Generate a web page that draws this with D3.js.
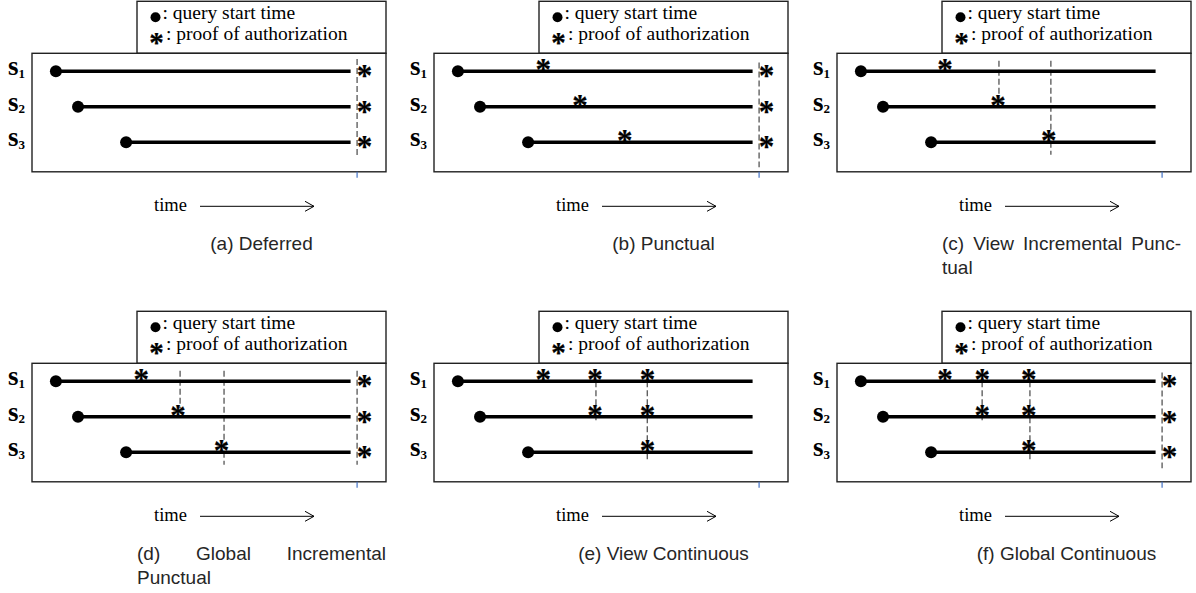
<!DOCTYPE html>
<html>
<head>
<meta charset="utf-8">
<script src="https://cdn.jsdelivr.net/npm/d3@7"></script>
<style>
  body { margin: 0; background: #fff; }
  svg { display: block; }
</style>
</head>
<body>
<script>
// chart values
const captions = [
    ["(a) Deferred"],
    ["(b) Punctual"],
    ["(c) View Incremental Punc-", "tual"],
    ["(d) Global Incremental", "Punctual"],
    ["(e) View Continuous"],
    ["(f) Global Continuous"]
];
const servers = ["1", "2", "3"];
const startTimes = [8.1, 15.6, 31.9];
const endTime = 108;
const nowTime = 110.2;
const deferredTime = 112.5;

// [server index, time] of each proof asterisk sitting on a line
const inlineProofs = [
    [],
    [[0, 37], [1, 49.5], [2, 64.7]],
    [[0, 36.6], [1, 54.6], [2, 71.8]],
    [[0, 37], [1, 49.5], [2, 64.2]],
    [[0, 37], [0, 54.6], [0, 72.4], [1, 54.6], [1, 72.4], [2, 72.4]],
    [[0, 36.6], [0, 49.2], [0, 65], [1, 49.2], [1, 65], [2, 65]]
];
// proofs at the end, right of the cut
const hasEndProofs = [true, true, false, true, false, true];

// dashed cuts: [time, from lane, to lane]
const cuts = [
    [[nowTime, -0.35, 2.4]],
    [[nowTime, -0.25, 2.7]],
    [[54.9, -0.3, 1.0], [72.5, -0.3, 2.35]],
    [[50.2, -0.3, 0.75], [65.1, -0.3, 2.35], [nowTime, -0.3, 2.35]],
    [[54.9, 0, 1.1], [72.3, 0, 2.2]],
    [[49.2, 0, 1.1], [65.4, 0, 2.2], [nowTime, -0.25, 2.45]]
];

const W = 1196, H = 593;
const colLeft = [32, 434, 837],
    rowTop = [53.3, 363.3];
const boxW = 354, boxH = 118.5;
const legendOff = 105, legendH = 52;

const serif = "'Liberation Serif', 'Times New Roman', serif",
    sans = "'Liberation Sans', Arial, Helvetica, sans-serif";

const x = d3.scaleLinear().domain([0, 120]).range([0, boxW]);
const lane = d3.scaleLinear().domain([0, 2]).range([18, 89]);

let svg = d3.select("body").append("svg")
    .attr("width", W)
    .attr("height", H);

function asterisk(g, cx, cy, size) {
    // bold times asterisk: glyph centre sits ~0.46em above baseline
    g.append("text")
        .attr("x", cx)
        .attr("y", cy + size * 0.46)
        .attr("text-anchor", "middle")
        .style("font-family", serif)
        .style("font-weight", "bold")
        .style("font-size", size + "px")
        .style("stroke", "#000")
        .style("stroke-width", 0.25)
        .text("*");
}

captions.forEach(function (cap, i) {
    let left = colLeft[i % 3],
        top = rowTop[Math.floor(i / 3)];

    let g = svg.append("g")
        .attr("class", "panel")
        .attr("transform", "translate(" + left + "," + top + ")");

    //legend
    let lg = g.append("g")
        .attr("transform", "translate(" + legendOff + "," + (-legendH) + ")");
    lg.append("rect")
        .attr("width", boxW - legendOff)
        .attr("height", legendH)
        .attr("fill", "#fff")
        .attr("stroke", "#222")
        .attr("stroke-width", 1.4);
    lg.append("circle")
        .attr("cx", 18.5)
        .attr("cy", 16)
        .attr("r", 5)
        .attr("fill", "#000");
    lg.append("text")
        .attr("x", 25.5)
        .attr("y", 17.5)
        .style("font-family", serif)
        .style("font-size", "19.5px")
        .text(": query start time");
    asterisk(lg, 19.5, 37, 29);
    lg.append("text")
        .attr("x", 29)
        .attr("y", 39)
        .style("font-family", serif)
        .style("font-size", "19.5px")
        .text(": proof of authorization");

    //main box
    g.append("rect")
        .attr("width", boxW)
        .attr("height", boxH)
        .attr("fill", "none")
        .attr("stroke", "#222")
        .attr("stroke-width", 1.4);

    // server labels
    servers.forEach(function (s, j) {
        let t = g.append("text")
            .attr("x", -24)
            .attr("y", lane(j) + 4)
            .style("font-family", serif)
            .style("font-weight", "bold")
            .style("font-size", "27px");
        t.append("tspan").text("s");
        t.append("tspan")
            .attr("dy", 2.5)
            .style("font-size", "13px")
            .text(s);
    });

    // cuts under everything
    g.selectAll(".cut")
        .data(cuts[i])
        .enter()
        .append("line")
        .attr("class", "cut")
        .attr("x1", function (d) { return x(d[0]); })
        .attr("x2", function (d) { return x(d[0]); })
        .attr("y1", function (d) { return lane(d[1]); })
        .attr("y2", function (d) { return lane(d[2]); })
        .attr("stroke", "#555")
        .attr("stroke-width", 1.3)
        .attr("stroke-dasharray", "6,3");

    // query lines
    g.selectAll(".query")
        .data(startTimes)
        .enter()
        .append("line")
        .attr("class", "query")
        .attr("x1", function (d) { return x(d); })
        .attr("x2", x(endTime))
        .attr("y1", function (d, j) { return lane(j); })
        .attr("y2", function (d, j) { return lane(j); })
        .attr("stroke", "#000")
        .attr("stroke-width", 3.6);

    g.selectAll(".start")
        .data(startTimes)
        .enter()
        .append("circle")
        .attr("class", "start")
        .attr("cx", function (d) { return x(d); })
        .attr("cy", function (d, j) { return lane(j); })
        .attr("r", 6)
        .attr("fill", "#000");

    inlineProofs[i].forEach(function (p) {
        asterisk(g, x(p[1]), lane(p[0]) - 5.5, 31);
    });
    if (hasEndProofs[i]) {
        servers.forEach(function (s, j) {
            asterisk(g, x(deferredTime) + 0.5, lane(j) + 0.5, 31);
        });
    }

    // blue tick for now
    g.append("line")
        .attr("x1", x(nowTime))
        .attr("x2", x(nowTime))
        .attr("y1", boxH)
        .attr("y2", boxH + 6)
        .attr("stroke", "#4472c4")
        .attr("stroke-width", 1.2);

    // time arrow
    g.append("text")
        .attr("x", 122)
        .attr("y", boxH + 39)
        .style("font-family", serif)
        .style("font-size", "18.5px")
        .text("time");
    let ay = boxH + 34.5;
    g.append("path")
        .attr("d", "M168," + ay + "H282M273," + (ay - 5) + "L282," + ay + "L273," + (ay + 5))
        .attr("fill", "none")
        .attr("stroke", "#000")
        .attr("stroke-width", 1);

    //caption
    let capW = boxW - legendOff;
    cap.forEach(function (line, k) {
        let last = k === cap.length - 1;
        let t = g.append("text")
            .attr("y", boxH + 78 + k * 24)
            .style("font-family", sans)
            .style("font-size", "19px")
            .style("fill", "#262626")
            .text(line);
        if (cap.length === 1) {
            t.attr("x", legendOff + capW / 2).attr("text-anchor", "middle");
        } else {
            t.attr("x", legendOff);
            if (!last) {
                let target = capW - (line.endsWith("-") ? 10 : 0);
                let gaps = line.split(" ").length - 1;
                let len = t.node().getComputedTextLength();
                t.attr("word-spacing", (target - len) / gaps);
            }
        }
    });
});
</script>
</body>
</html>
